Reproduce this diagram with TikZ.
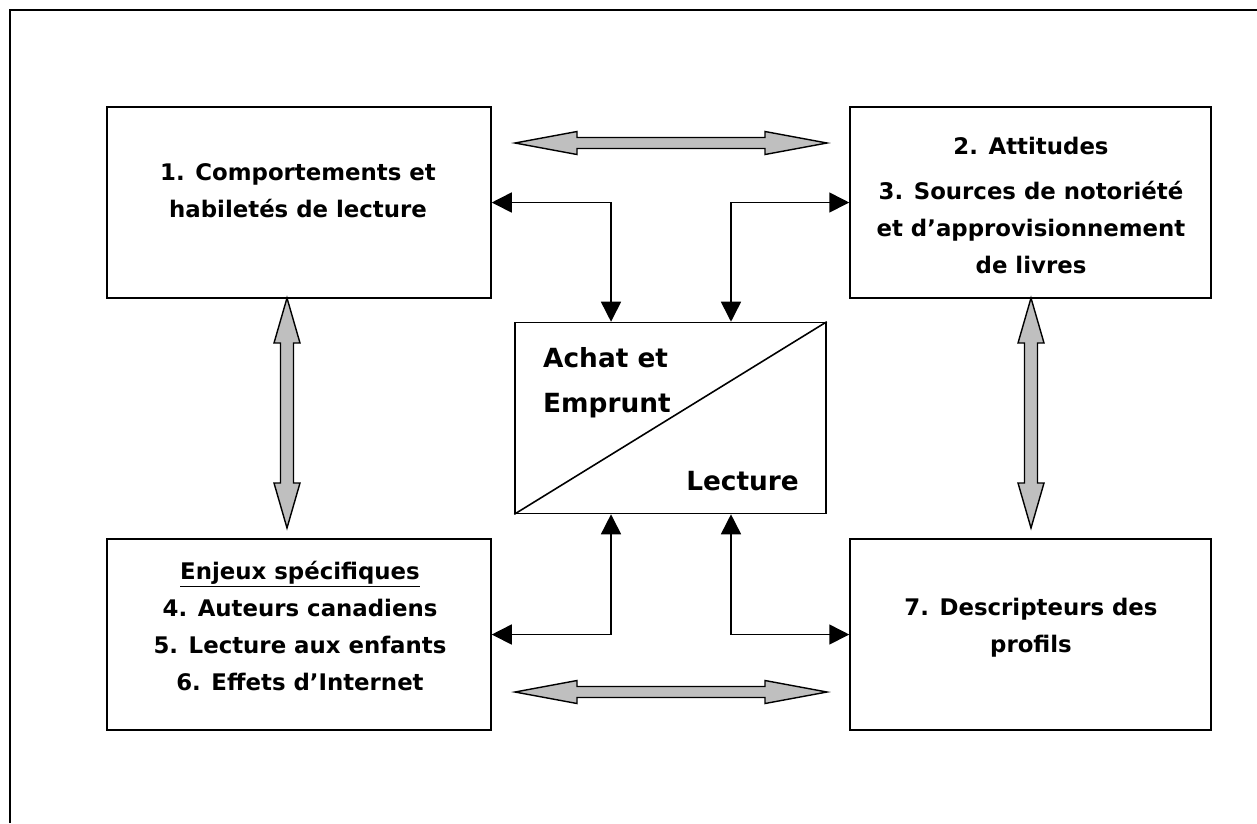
\documentclass[tikz,border=0pt]{standalone}
\usepackage{fontspec}
\setmainfont{DejaVu Sans}
\usetikzlibrary{arrows.meta,calc,positioning}

% grey double arrows, drawn as outlines
\newcommand{\wideh}[2]{%
  \draw[grayarrow] (#1) -- ++(62,-11.5) -- ++(0,6) -- ($(#2)+(-62,-5.5)$) -- ++(0,-6)
    -- (#2) -- ++(-62,11.5) -- ++(0,-6) -- ($(#1)+(62,5.5)$) -- ++(0,6) -- cycle;}
\newcommand{\widev}[2]{%
  \draw[grayarrow] (#1) -- ++(13,45) -- ++(-6.5,0) -- ($(#2)+(6.5,-45)$) -- ++(6.5,0)
    -- (#2) -- ++(-13,-45) -- ++(6.5,0) -- ($(#1)+(-6.5,45)$) -- ++(-6.5,0) -- cycle;}

\tikzset{
  box/.style={draw,line width=0.9pt,minimum height=3.82cm,inner sep=0pt},
  boxtext/.style={font=\bfseries\fontsize{13}{21}\selectfont,align=center,anchor=base},
  bigtext/.style={font=\bfseries\fontsize{15}{25.5}\selectfont},
  grayarrow/.style={draw,line width=0.8pt,fill=gray!50,line join=miter},
  conn/.style={line width=0.9pt,{Triangle[length=4mm,width=4mm]}-{Triangle[length=4mm,width=4mm]}}
}

\begin{document}
\begin{tikzpicture}[x=0.02cm,y=-0.02cm]
\useasboundingbox (0,0) rectangle (1257,823);
% frame
\draw[line width=1.4pt] (10,823) -- (10,10) -- (1257,10);

% boxes
\node[box,minimum width=7.68cm] (comp) at (299,202.5) {};
\node[box,minimum width=7.22cm] (att) at (1030.5,202.5) {};
\node[box,minimum width=7.68cm] (enj) at (299,634.5) {};
\node[box,minimum width=7.22cm] (desc) at (1030.5,634.5) {};
\node[box,minimum width=6.22cm] (achat) at (670.5,418) {};
\draw[line width=0.9pt] (achat.south west) -- (achat.north east);

% texts (base = last line)
\node[boxtext] (tcomp) at (298,217) {1. Comportements et\\habiletés de lecture};
\node[boxtext] (tatt) at (1031,273) {2. Attitudes\\[0.16cm]3. Sources de notoriété\\et d’approvisionnement\\de livres};
\node[boxtext] (tenj) at (300,690) {\underline{Enjeux spécifiques}\\4. Auteurs canadiens\\5. Lecture aux enfants\\6. Effets d’Internet};
\node[boxtext] (tdesc) at (1031,652) {7. Descripteurs des\\profils};
\node[bigtext,anchor=base west,align=left] (tachat) at (537,412) {Achat et\\Emprunt};
\node[bigtext,anchor=base east] (tlect) at (805,490) {Lecture};

% black connectors
\draw[conn] (comp.east) -| ([xshift=-1.19cm]achat.north);
\draw[conn] (att.west) -| ([xshift=1.21cm]achat.north);
\draw[conn] (enj.east) -| ([xshift=-1.19cm]achat.south);
\draw[conn] (desc.west) -| ([xshift=1.21cm]achat.south);

% grey arrows
\coordinate (htl) at (515,143);
\coordinate (htr) at (827,143);
\coordinate (hbl) at (515,692);
\coordinate (hbr) at (827,692);
\coordinate (vla) at (287,298);
\coordinate (vlb) at (287,528);
\coordinate (vra) at (1031,298);
\coordinate (vrb) at (1031,528);
\wideh{htl}{htr}
\wideh{hbl}{hbr}
\widev{vla}{vlb}
\widev{vra}{vrb}
\end{tikzpicture}
\end{document}
